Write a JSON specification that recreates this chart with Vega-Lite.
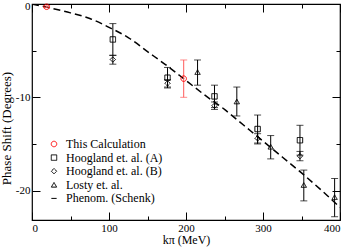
{
  "$schema": "https://vega.github.io/schema/vega-lite/v6.json",
  "width": 308,
  "height": 216,
  "autosize": {"type": "none"},
  "padding": {"left": 32, "top": 4, "right": 9, "bottom": 27},
  "background": "white",
  "config": {
    "font": "Liberation Serif",
    "view": {"stroke": "black", "strokeWidth": 1.2},
    "axis": {"grid": false, "domain": false, "labelFont": "Liberation Serif", "labelFontSize": 11, "labelColor": "black", "tickColor": "black", "tickWidth": 1, "titleFont": "Liberation Serif", "titleFontWeight": "normal", "titleColor": "black"},
    "legend": {"labelFont": "Liberation Serif", "labelFontSize": 12, "labelColor": "black"}
  },
  "datasets": {
    "pts": [
      {"series": "This Calculation", "k": 19, "y": -0.3, "lo": -0.4, "hi": -0.2},
      {"series": "This Calculation", "k": 197, "y": -8.0, "lo": -10.0, "hi": -6.0},
      {"series": "Hoogland et. al. (A)", "k": 105, "y": -3.8, "lo": -5.5, "hi": -2.1},
      {"series": "Hoogland et. al. (A)", "k": 176, "y": -7.9, "lo": -9.0, "hi": -6.8},
      {"series": "Hoogland et. al. (A)", "k": 237, "y": -9.9, "lo": -11.1, "hi": -8.7},
      {"series": "Hoogland et. al. (A)", "k": 293, "y": -13.4, "lo": -14.9, "hi": -11.9},
      {"series": "Hoogland et. al. (A)", "k": 348, "y": -14.6, "lo": -16.2, "hi": -13.0},
      {"series": "Hoogland et. al. (B)", "k": 105, "y": -5.95, "lo": -6.45, "hi": -5.5},
      {"series": "Hoogland et. al. (B)", "k": 176, "y": -8.5, "lo": -8.9, "hi": -8.1},
      {"series": "Hoogland et. al. (B)", "k": 237, "y": -10.9, "lo": -11.3, "hi": -10.5},
      {"series": "Hoogland et. al. (B)", "k": 293, "y": -14.4, "lo": -15.0, "hi": -13.9},
      {"series": "Hoogland et. al. (B)", "k": 348, "y": -16.3, "lo": -16.8, "hi": -15.8},
      {"series": "Losty et. al.", "k": 215, "y": -7.3, "lo": -8.7, "hi": -6.0},
      {"series": "Losty et. al.", "k": 266, "y": -10.45, "lo": -12.0, "hi": -8.9},
      {"series": "Losty et. al.", "k": 310, "y": -15.3, "lo": -16.6, "hi": -14.1},
      {"series": "Losty et. al.", "k": 353, "y": -19.4, "lo": -21.1, "hi": -17.8},
      {"series": "Losty et. al.", "k": 393, "y": -20.7, "lo": -22.8, "hi": -18.7}
    ],
    "curve": [
      {"k": 0, "y": 0}, {"k": 25, "y": -0.45}, {"k": 50, "y": -0.95}, {"k": 75, "y": -1.55},
      {"k": 100, "y": -2.5}, {"k": 125, "y": -3.6}, {"k": 150, "y": -5.1}, {"k": 175, "y": -6.6},
      {"k": 200, "y": -8.2}, {"k": 225, "y": -9.8}, {"k": 250, "y": -11.3}, {"k": 275, "y": -13.0},
      {"k": 300, "y": -14.7}, {"k": 325, "y": -16.4}, {"k": 350, "y": -18.1}, {"k": 375, "y": -19.9},
      {"k": 400, "y": -21.8}
    ]
  },
  "layer": [
    {
      "data": {"name": "curve"},
      "mark": {"type": "line", "color": "black", "strokeWidth": 1.5, "strokeDash": [7, 4], "interpolate": "monotone", "clip": true},
      "encoding": {
        "x": {"field": "k", "type": "quantitative", "scale": {"domain": [0, 400], "nice": false},
              "axis": {"orient": "top", "values": [0, 50, 100, 150, 200, 250, 300, 350, 400], "labels": false, "title": null,
                       "tickSize": {"condition": {"test": "datum.value % 100 === 0", "value": -8}, "value": -4}}},
        "y": {"field": "y", "type": "quantitative", "scale": {"domain": [-23.15, 0], "nice": false},
              "axis": {"orient": "right", "values": [-20, -15, -10, -5, 0], "labels": false, "title": null,
                       "tickSize": {"condition": {"test": "datum.value % 10 === 0", "value": -8}, "value": -4}}}
      }
    },
    {
      "data": {"name": "pts"},
      "mark": {"type": "rule", "strokeWidth": 1},
      "encoding": {
        "x": {"field": "k", "type": "quantitative", "axis": null},
        "y": {"field": "lo", "type": "quantitative", "axis": null},
        "y2": {"field": "hi"},
        "color": {"condition": {"test": "datum.series === 'This Calculation'", "value": "#ff5a5a"}, "value": "black"}
      }
    },
    {
      "data": {"name": "pts"},
      "mark": {"type": "tick", "orient": "horizontal", "size": 7, "thickness": 1},
      "encoding": {
        "x": {"field": "k", "type": "quantitative", "axis": null},
        "y": {"field": "lo", "type": "quantitative", "axis": null},
        "color": {"condition": {"test": "datum.series === 'This Calculation'", "value": "#ff5a5a"}, "value": "black"}
      }
    },
    {
      "data": {"name": "pts"},
      "mark": {"type": "tick", "orient": "horizontal", "size": 7, "thickness": 1},
      "encoding": {
        "x": {"field": "k", "type": "quantitative", "axis": null},
        "y": {"field": "hi", "type": "quantitative", "axis": null},
        "color": {"condition": {"test": "datum.series === 'This Calculation'", "value": "#ff5a5a"}, "value": "black"}
      }
    },
    {
      "data": {"name": "pts"},
      "mark": {"type": "point", "filled": false, "strokeWidth": 1, "opacity": 1},
      "encoding": {
        "x": {"field": "k", "type": "quantitative",
              "axis": {"orient": "bottom", "values": [0, 50, 100, 150, 200, 250, 300, 350, 400], "title": "kπ (MeV)", "titleFontSize": 12, "titlePadding": 1,
                       "labelExpr": "datum.value % 100 === 0 ? toString(datum.value) : ''", "labelPadding": 10,
                       "tickSize": {"condition": {"test": "datum.value % 100 === 0", "value": -8}, "value": -4}}},
        "y": {"field": "y", "type": "quantitative",
              "axis": {"orient": "left", "values": [-20, -15, -10, -5, 0], "title": "Phase Shift (Degrees)", "titleFontSize": 13, "titlePadding": 2, "titleY": 124,
                       "labelExpr": "datum.value % 10 === 0 ? toString(datum.value) : ''", "labelPadding": 10,
                       "labelOffset": {"condition": {"test": "datum.value === 0", "value": 2}, "value": 0},
                       "tickSize": {"condition": {"test": "datum.value % 10 === 0", "value": -8}, "value": -4}}},
        "shape": {"field": "series", "type": "nominal",
                  "scale": {"domain": ["This Calculation", "Hoogland et. al. (A)", "Hoogland et. al. (B)", "Losty et. al.", "Phenom. (Schenk)"],
                            "range": ["circle", "square", "diamond", "triangle-up", "stroke"]},
                  "legend": {"orient": "none", "legendX": 16, "legendY": 134, "title": null, "padding": 0, "rowPadding": 1.6, "labelOffset": 6, "symbolStrokeWidth": 1}},
        "color": {"field": "series", "type": "nominal",
                  "scale": {"domain": ["This Calculation", "Hoogland et. al. (A)", "Hoogland et. al. (B)", "Losty et. al.", "Phenom. (Schenk)"],
                            "range": ["#ff0000", "black", "black", "black", "black"]},
                  "legend": {"orient": "none", "legendX": 16, "legendY": 134, "title": null, "padding": 0, "rowPadding": 1.6, "labelOffset": 6, "symbolStrokeWidth": 1}},
        "size": {"field": "series", "type": "nominal",
                 "scale": {"domain": ["This Calculation", "Hoogland et. al. (A)", "Hoogland et. al. (B)", "Losty et. al.", "Phenom. (Schenk)"],
                           "range": [30, 28, 28, 30, 120]},
                 "legend": {"orient": "none", "legendX": 16, "legendY": 134, "title": null, "padding": 0, "rowPadding": 1.6, "labelOffset": 6, "symbolStrokeWidth": 1}},
        "strokeDash": {"field": "series", "type": "nominal",
                       "scale": {"domain": ["This Calculation", "Hoogland et. al. (A)", "Hoogland et. al. (B)", "Losty et. al.", "Phenom. (Schenk)"],
                                 "range": [[1, 0], [1, 0], [1, 0], [1, 0], [6, 2, 2, 2]]},
                       "legend": {"orient": "none", "legendX": 16, "legendY": 134, "title": null, "padding": 0, "rowPadding": 1.6, "labelOffset": 6, "symbolStrokeWidth": 1}}
      }
    }
  ],
  "resolve": {"axis": {"x": "independent", "y": "independent"}}
}
